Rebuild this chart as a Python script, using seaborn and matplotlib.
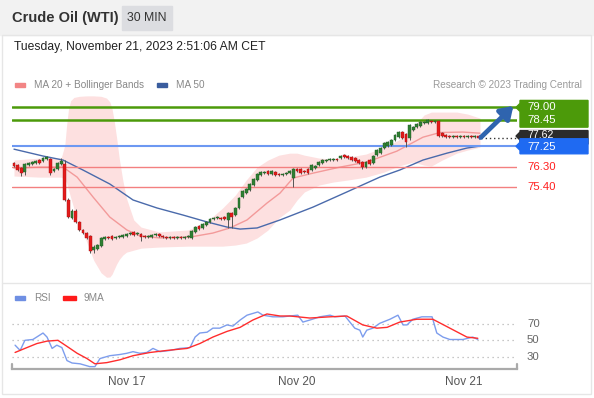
import numpy as np
import pandas as pd
import matplotlib
matplotlib.use("Agg")
import matplotlib.pyplot as plt
import matplotlib.transforms as mtransforms
from matplotlib.patches import Polygon, Rectangle
import seaborn as sns

sns.set_theme(style="white")
plt.rcParams['font.family'] = ['Liberation Sans', 'DejaVu Sans']

# ---------------- data ----------------
opens = [76.49, 76.40, 76.27, 76.09, 76.40, 76.45, 76.49, 76.63, 76.58, 76.67,
         76.67, 76.13, 76.22, 76.45, 76.45, 74.83, 74.02, 74.34, 73.84, 73.48,
         73.34, 73.21, 72.57, 72.62, 72.75, 73.07, 73.16, 73.21, 73.12, 73.16,
         73.16, 73.21, 73.30, 73.39, 73.30, 73.30, 73.21, 73.16, 73.16, 73.25,
         73.30, 73.21, 73.16, 73.12, 73.16, 73.12, 73.16, 73.12, 73.16, 73.12,
         73.39, 73.66, 73.57, 73.70, 73.84, 73.97, 74.02, 74.02, 74.06, 73.93,
         74.24, 74.15, 74.47, 74.96, 75.14, 75.28, 75.50, 75.73, 75.95, 76.04,
         76.13, 76.00, 76.09, 76.00, 75.95, 76.00, 76.04, 75.82, 76.22, 76.22,
         76.13, 76.22, 76.18, 76.27, 76.40, 76.49, 76.58, 76.63, 76.63, 76.67,
         76.72, 76.85, 76.81, 76.76, 76.72, 76.63, 76.54, 76.31, 76.63, 76.49,
         76.85, 76.94, 77.17, 77.26, 77.30, 77.53, 77.66, 77.89, 77.80, 77.62,
         77.98, 78.12, 78.16, 78.30, 78.30, 78.39, 78.34, 78.39, 77.84, 77.75,
         77.71, 77.66, 77.71, 77.66, 77.71, 77.66, 77.71, 77.66, 77.71]
closes = [76.36, 76.18, 76.04, 76.45, 76.49, 76.54, 76.58, 76.49, 76.72, 76.76,
          76.04, 76.22, 76.49, 76.58, 74.83, 74.06, 74.34, 73.84, 73.48, 73.34,
          73.12, 72.53, 72.71, 72.80, 73.12, 73.16, 73.12, 73.07, 73.16, 73.21,
          73.25, 73.30, 73.34, 73.25, 73.34, 73.16, 73.16, 73.21, 73.25, 73.30,
          73.21, 73.16, 73.12, 73.16, 73.12, 73.16, 73.12, 73.16, 73.21, 73.43,
          73.61, 73.52, 73.75, 73.84, 73.97, 74.02, 74.06, 73.99, 73.97, 74.24,
          74.06, 74.47, 74.91, 75.23, 75.32, 75.55, 75.77, 76.00, 76.09, 76.09,
          76.00, 76.13, 75.95, 75.95, 76.00, 76.04, 76.13, 76.22, 76.13, 76.04,
          76.09, 76.04, 76.40, 76.36, 76.54, 76.63, 76.63, 76.67, 76.67, 76.63,
          76.81, 76.76, 76.72, 76.63, 76.58, 76.49, 76.31, 76.54, 76.45, 76.81,
          77.08, 77.17, 77.39, 77.44, 77.53, 77.75, 77.89, 77.62, 77.44, 78.21,
          78.12, 78.25, 78.34, 78.34, 78.43, 78.34, 78.39, 77.71, 77.71, 77.66,
          77.66, 77.71, 77.66, 77.71, 77.66, 77.71, 77.66, 77.71, 77.62]
highs = [76.54, 76.45, 76.31, 76.49, 76.54, 76.58, 76.63, 76.67, 76.76, 76.81,
         76.72, 76.27, 76.54, 76.72, 76.63, 74.91, 74.42, 74.42, 73.89, 73.52,
         73.39, 73.25, 72.80, 72.85, 73.16, 73.21, 73.21, 73.25, 73.21, 73.25,
         73.30, 73.34, 73.39, 73.43, 73.39, 73.34, 73.25, 73.25, 73.30, 73.34,
         73.34, 73.25, 73.21, 73.21, 73.21, 73.21, 73.21, 73.21, 73.25, 73.48,
         73.66, 73.70, 73.80, 73.89, 74.02, 74.06, 74.11, 74.08, 74.11, 74.29,
         74.29, 74.51, 74.96, 75.28, 75.37, 75.59, 75.82, 76.04, 76.13, 76.15,
         76.18, 76.18, 76.13, 76.04, 76.04, 76.09, 76.18, 76.27, 76.27, 76.27,
         76.18, 76.27, 76.45, 76.40, 76.58, 76.67, 76.67, 76.72, 76.72, 76.72,
         76.85, 76.90, 76.85, 76.81, 76.76, 76.67, 76.58, 76.58, 76.67, 76.85,
         77.12, 77.21, 77.44, 77.48, 77.57, 77.80, 77.93, 77.93, 77.84, 78.25,
         78.16, 78.30, 78.39, 78.39, 78.47, 78.43, 78.43, 78.45, 77.89, 77.80,
         77.75, 77.75, 77.75, 77.75, 77.75, 77.75, 77.75, 77.75, 77.75]
lows = [76.31, 76.13, 75.91, 75.95, 76.36, 76.40, 76.45, 76.45, 76.54, 76.63,
        75.95, 76.09, 76.18, 76.40, 74.78, 74.02, 73.97, 73.80, 73.43, 73.30,
        73.07, 72.44, 72.44, 72.57, 72.71, 73.03, 73.07, 73.03, 73.07, 73.12,
        73.12, 73.16, 73.25, 73.21, 73.25, 72.98, 73.12, 73.12, 73.12, 73.21,
        73.16, 73.12, 73.07, 73.07, 73.07, 73.07, 73.07, 73.07, 73.12, 73.07,
        73.34, 73.48, 73.52, 73.66, 73.80, 73.93, 73.97, 73.95, 73.93, 73.57,
        73.57, 74.11, 74.42, 74.91, 75.10, 75.23, 75.46, 75.68, 75.91, 76.00,
        75.95, 75.95, 75.91, 75.91, 75.91, 75.95, 76.00, 75.41, 76.09, 76.00,
        76.04, 76.00, 76.13, 76.22, 76.36, 76.45, 76.54, 76.58, 76.58, 76.58,
        76.67, 76.72, 76.67, 76.58, 76.54, 76.45, 76.22, 76.27, 76.40, 76.45,
        76.81, 76.90, 77.12, 77.21, 77.26, 77.48, 77.62, 77.57, 77.21, 77.53,
        77.93, 78.07, 78.12, 78.25, 78.25, 78.30, 78.30, 77.66, 77.66, 77.62,
        77.62, 77.62, 77.62, 77.62, 77.62, 77.62, 77.62, 77.62, 77.57]

# moving averages / bands read at candle positions
ma50_idx = [0, 8, 13.5, 19, 26.4, 32.8, 39.4, 46.6, 53.2, 58.7, 62.3, 67, 73.3,
            82.4, 91.7, 100.8, 106.3, 112.7, 119.3, 124.8, 128.4]
ma50_val = [77.12, 76.81, 76.63, 76.18, 75.55, 74.83, 74.47, 74.15, 73.84, 73.61,
            73.52, 73.57, 73.93, 74.51, 75.19, 75.86, 76.18, 76.63, 76.94, 77.17, 77.26]
ma20_idx = [0, 7.2, 13.5, 17.4, 21.8, 26.4, 31.1, 34.7, 40.2, 48.5, 54.8, 59.5,
            64.2, 69.7, 73.3, 76.9, 82.4, 89.8, 97.2, 105.5, 112.7, 117.4, 123.7, 128.4]
ma20_val = [76.27, 76.31, 76.31, 75.86, 74.96, 74.06, 73.48, 73.21, 73.12, 73.16,
            73.34, 73.57, 73.93, 74.69, 75.14, 75.82, 76.04, 76.31, 76.54, 77.03,
            77.66, 77.87, 77.89, 77.84]
bb_idx = [0, 7, 13, 14, 14.5, 15, 15.6, 16.5, 18, 20, 22, 24, 25.5, 26.4, 27, 27.6,
          28.3, 29, 30, 31, 33, 35, 40, 48, 53, 57.5, 61, 64, 67, 70, 73, 76, 78,
          80, 84, 88, 92, 97, 102, 106, 110, 113, 115, 118, 122, 125, 128.4]
bb_upper = [76.63, 76.72, 76.72, 77.30, 78.20, 78.90, 79.30, 79.45, 79.50, 79.52,
            79.52, 79.50, 79.42, 79.25, 78.95, 78.40, 77.60, 76.70, 75.70, 74.90,
            73.93, 73.61, 73.39, 73.48, 73.84, 74.47, 75.05, 75.73, 76.31, 76.63,
            76.85, 76.94, 76.94, 76.85, 76.72, 76.67, 76.76, 76.90, 77.21, 77.53,
            78.12, 78.66, 78.79, 78.79, 78.79, 78.70, 78.52]
bb_lower = [75.91, 75.86, 75.86, 75.75, 75.60, 75.30, 74.95, 74.45, 73.75, 72.95,
            72.10, 71.55, 71.35, 71.36, 71.48, 71.70, 71.95, 72.15, 72.35, 72.48,
            72.57, 72.66, 72.71, 72.75, 72.75, 72.75, 72.80, 72.89, 73.12, 73.48,
            74.02, 74.38, 74.83, 75.19, 75.50, 75.64, 75.73, 75.86, 76.09, 76.36,
            76.54, 76.40, 76.36, 76.63, 76.94, 77.08, 77.21]

level_values = [79.00, 78.45, 77.25, 76.30, 75.40]
level_labels = ["79.00", "78.45", "77.25", "76.30", "75.40"]
last_price = 77.62
last_label = "77.62"

rsi_idx = [0.3, 1.7, 3.0, 5.2, 8.0, 9.1, 10.5, 11.8, 13.2, 14.6, 16.0, 18.2, 20.9,
           22.3, 23.7, 26.4, 29.2, 31.1, 32.8, 34.7, 36.6, 38.3, 40.2, 43.0, 45.7,
           48.5, 49.9, 51.2, 53.2, 54.8, 56.7, 58.7, 60.3, 62.3, 64.2, 67.2, 68.6,
           71.3, 74.1, 76.0, 78.2, 79.6, 81.5, 84.3, 87.1, 88.4, 91.2, 93.9, 95.3,
           96.1, 97.2, 98.9, 100.8, 103.6, 105.8, 107.2, 108.3, 109.9, 112.4, 115.2,
           116.5, 118.2, 120.1, 123.7, 126.4, 127.8]
rsi_val = [44, 37.5, 50, 51, 59, 54, 40, 44, 41, 25, 22, 21, 17.5, 17.5, 27.5, 31,
           32.5, 34, 36, 34, 35, 40, 36, 37.5, 40, 41, 54, 59, 60, 65, 65, 69, 67.5,
           75, 81, 85, 81, 79, 79, 80, 81, 72.5, 75, 79, 81, 79, 80, 65, 62.5, 54,
           62.5, 65, 71, 76, 81, 69, 69, 76, 79, 79, 59, 54, 51, 51, 54, 51]
ma9_idx = [0.3, 3.0, 6.3, 9.1, 12.1, 14.6, 17.4, 20.1, 22.3, 25.6, 29.2, 32.8, 37.5,
           42.1, 47.7, 51.2, 54.8, 58.7, 62.3, 65.8, 69.7, 73.3, 76.0, 81.5, 87.1,
           91.7, 96.1, 100.0, 102.8, 106.3, 111.0, 115.4, 120.1, 124.8, 127.8]
ma9_val = [35, 40, 46, 49, 50, 42.5, 34, 27.5, 21, 22.5, 26, 31, 35, 37.5, 40, 46,
           54, 61, 66, 75, 82.5, 80, 80, 77.5, 79, 80, 69, 65, 66, 72.5, 76, 76, 65,
           54, 52.5]
rsi_levels = [70, 50, 30]

tick_idx = [31, 78, 124]
tick_labels = ["Nov 17", "Nov 20", "Nov 21"]

# ---------------- figure ----------------
W, H = 594, 398
fig = plt.figure(figsize=(W / 100, H / 100), dpi=100)
fig.patch.set_facecolor("white")

def fy(py):
    return 1 - py / H

# header band + frame
fig.patches.append(Rectangle((0, fy(35)), 1, 35 / H, transform=fig.transFigure,
                             color="#f2f2f2", zorder=0))
fig.patches.append(Rectangle((2 / W, fy(394)), 589 / W, (394 - 35) / H,
                             transform=fig.transFigure, fill=False,
                             edgecolor="#e6e6e6", lw=1, zorder=0))
fig.add_artist(plt.Line2D([2 / W, 591 / W], [fy(283), fy(283)], color="#e6e6e6",
                          lw=1, transform=fig.transFigure))
fig.patches.append(Rectangle((122 / W, fy(30)), 50 / W, 24 / H, transform=fig.transFigure,
                             color="#dcdde1", zorder=1))
fig.text(12 / W, fy(18), "Crude Oil (WTI)", fontsize=10.5, fontweight="bold",
         color="#333333", va="center", ha="left")
fig.text(147 / W, fy(18), "30 MIN", fontsize=8.8, color="#333333", va="center", ha="center")
fig.text(14 / W, fy(47), "Tuesday, November 21, 2023 2:51:06 AM CET", fontsize=8.7,
         color="#222222", va="center", ha="left")

# legends
fig.patches.append(Rectangle((15 / W, fy(87)), 10 / W, 4 / H, transform=fig.transFigure,
                             color="#f28585"))
fig.text(34 / W, fy(85), "MA 20 + Bollinger Bands", fontsize=7.2, color="#888888", va="center")
fig.patches.append(Rectangle((157 / W, fy(87)), 10 / W, 4 / H, transform=fig.transFigure,
                             color="#3a5d9e"))
fig.text(176 / W, fy(85), "MA 50", fontsize=7.2, color="#888888", va="center")
fig.text(582 / W, fy(85), "Research © 2023 Trading Central", fontsize=7.2, color="#9a9a9a",
         va="center", ha="right")
fig.patches.append(Rectangle((15 / W, fy(300)), 10 / W, 4 / H, transform=fig.transFigure,
                             color="#6f8fe3"))
fig.text(34 / W, fy(298), "RSI", fontsize=7.2, color="#888888", va="center")
fig.patches.append(Rectangle((63 / W, fy(300)), 13 / W, 4 / H, transform=fig.transFigure,
                             color="#ff1a1a"))
fig.text(83 / W, fy(298), "9MA", fontsize=7.2, color="#888888", va="center")

# ---------------- main price axes ----------------
ax = fig.add_axes([12 / W, fy(283), 505 / W, 188 / H])
ax.set_facecolor("none")
ymin, ymax = 71.09, 79.56
ax.set_xlim(-0.55, 138.6)
ax.set_ylim(ymin, ymax)
dp = (ymax - ymin) / 188.0  # price per pixel

ax.fill_between(bb_idx, bb_lower, bb_upper, color="#fde0e0", lw=0, zorder=1)

sns.lineplot(x=ma20_idx, y=ma20_val, ax=ax, color="#f39a9a", lw=1, zorder=2,
             estimator=None, sort=False)
sns.lineplot(x=ma50_idx, y=ma50_val, ax=ax, color="#4a6aab", lw=1, zorder=2,
             estimator=None, sort=False)

level_colors = ["#4c9a0a", "#4c9a0a", "#6d98f2", "#f38080", "#f38080"]
level_widths = [1.8, 1.8, 1.5, 1.0, 1.0]
for v, c, w in zip(level_values, level_colors, level_widths):
    ax.axhline(v, color=c, lw=w, zorder=2)

o = np.array(opens); c = np.array(closes)
hi = np.array(highs); lo = np.array(lows)
idx = np.arange(len(o))
ax.vlines(idx, lo, hi, color="#555555", lw=0.7, zorder=3)
bottom = np.minimum(o, c)
height = np.maximum(np.abs(c - o), 0.025)
up = c >= o
ax.bar(idx[up], height[up], bottom=bottom[up], width=0.78, color="#2f7f33",
       edgecolor="#1f5a22", lw=0.3, zorder=4)
ax.bar(idx[~up], height[~up], bottom=bottom[~up], width=0.78, color="#e31b1b",
       edgecolor="#a81010", lw=0.3, zorder=4)

ax.hlines(last_price, idx[-1] + 0.6, 138.6, colors="#333333", lw=1,
          linestyles=(0, (1, 2)), zorder=3)

for s in ax.spines.values():
    s.set_visible(False)
ax.set_xticks([]); ax.set_yticks([])
ax.set_xlabel(""); ax.set_ylabel("")

# right-hand price labels
tr = mtransforms.blended_transform_factory(fig.transFigure, ax.transData)
def px(p):
    return p / W

def tag(center_top, center_bot, tip, color, z):
    pts = [(px(520), center_top), (px(588), center_top), (px(588), center_bot),
           (px(520), center_bot), (px(520), tip - 4 * dp), (px(516), tip),
           (px(520), tip + 4 * dp)]
    fig.patches.append(Polygon(pts, closed=True, transform=tr, color=color, zorder=z))

tag(level_values[0] + 7 * dp, level_values[1] - 7.5 * dp, level_values[0], "#4c9a0a", 5)
tag(last_price + 7.5 * dp, last_price - 6.0 * dp, last_price + 2 * dp, "#2b2b2b", 5)
fig.text(px(527), level_values[0], level_labels[0], transform=tr, color="white",
         fontsize=8.2, va="center", zorder=7)
fig.text(px(527), level_values[1], level_labels[1], transform=tr, color="white",
         fontsize=8.2, va="center", zorder=7)
fig.text(px(527), last_price + 3.2 * dp, last_label, transform=tr, color="white",
         fontsize=7.6, va="center", zorder=6)
tag(level_values[2] + 7.5 * dp, level_values[2] - 7.5 * dp, level_values[2], "#1f6af2", 8)
fig.text(px(527), level_values[2] - 0.5 * dp, level_labels[2], transform=tr, color="white",
         fontsize=8.2, va="center", zorder=9)
for v, t in zip(level_values[3:], level_labels[3:]):
    fig.text(px(527), v, t, transform=tr, color="#ff2020", fontsize=8.2, va="center")

# forecast arrow from last close toward the 79.00 target
ax.annotate("", xy=(137.6, level_values[0] + 1.5 * dp), xytext=(idx[-1] + 0.6, last_price + 0.5 * dp),
            arrowprops=dict(arrowstyle="-|>,head_length=0.6,head_width=0.4",
                            color="#2f64ae", lw=3.4, shrinkA=0, shrinkB=0),
            annotation_clip=False, zorder=6)

# ---------------- RSI axes ----------------
rax = fig.add_axes([12 / W, fy(369), 505 / W, 59 / H])
rax.set_facecolor("none")
rax.set_xlim(-0.55, 138.6)
rax.set_ylim(14.6, 87.4)
for v in rsi_levels:
    rax.axhline(v, color="#b5b5b5", lw=0.9, linestyle=(0, (1, 3)), zorder=1)
    rax.text(1.0 + 10 / 505, v, str(v), transform=rax.get_yaxis_transform(),
             fontsize=8.2, color="#666666", va="center", ha="left")
sns.lineplot(x=rsi_idx, y=rsi_val, ax=rax, color="#7d9ded", lw=1, zorder=2,
             estimator=None, sort=False)
sns.lineplot(x=ma9_idx, y=ma9_val, ax=rax, color="#ff2d2d", lw=1, zorder=3,
             estimator=None, sort=False)
for name, s in rax.spines.items():
    s.set_visible(name == "bottom")
rax.spines["bottom"].set_color("#aaaaaa")
rax.spines["bottom"].set_linewidth(1.6)
rax.axvline(-0.55, ymin=0, ymax=5 / 59, color="#aaaaaa", lw=1.6, clip_on=False)
rax.axvline(138.6, ymin=0, ymax=5 / 59, color="#aaaaaa", lw=1.6, clip_on=False)
rax.set_yticks([])
rax.set_xticks(tick_idx)
rax.set_xticklabels(tick_labels)
rax.tick_params(axis="x", length=0, pad=5, labelsize=8.5, labelcolor="#555555")
rax.set_xlabel(""); rax.set_ylabel("")

fig.savefig("out.png", dpi=100)
